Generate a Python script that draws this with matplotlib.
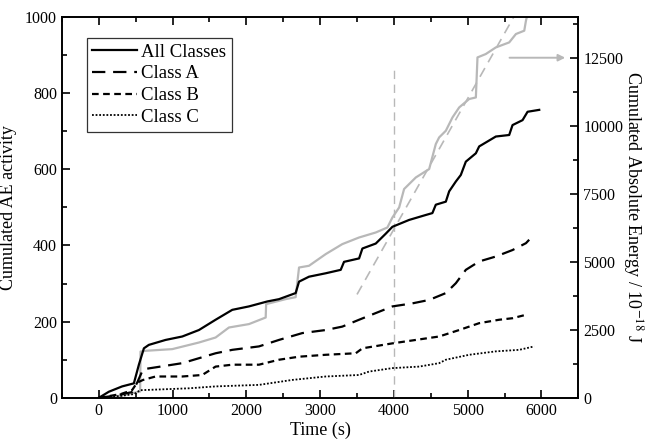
import numpy as np
import matplotlib
matplotlib.use('Agg')
import matplotlib.pyplot as plt

plt.rcParams['font.family'] = ['Liberation Serif', 'DejaVu Serif']
plt.rcParams['mathtext.fontset'] = 'stix'

# cumulated AE activity (left axis)
t_all = [0, 136, 316, 475, 543, 611, 678, 905, 1131, 1357, 1583, 1809, 2035, 2284,
         2442, 2668, 2714, 2849, 3076, 3279, 3324, 3528, 3573, 3754, 3890, 3980,
         4206, 4432, 4522, 4568, 4704, 4749, 4840, 4907, 4975, 5111, 5156, 5382,
         5563, 5608, 5744, 5812, 5970]
y_all = [0, 16, 30, 38, 87, 130, 139, 152, 161, 178, 205, 231, 240, 253,
         259, 275, 305, 318, 327, 336, 357, 366, 392, 405, 431, 449,
         467, 480, 485, 507, 515, 542, 568, 585, 620, 642, 660, 686,
         690, 716, 729, 751, 756]

t_a = [0, 200, 450, 520, 600, 769, 1131, 1357, 1583, 1809, 2171, 2442, 2759, 3076,
       3301, 3528, 3799, 3980, 4251, 4478, 4704, 4840, 4975, 5156, 5382, 5608, 5790, 5834]
y_a = [0, 5, 15, 40, 75, 80, 91, 104, 117, 126, 135, 152, 170, 178,
       187, 205, 226, 240, 248, 257, 275, 301, 336, 358, 371, 388, 406, 415]

t_b = [0, 300, 450, 520, 600, 769, 1131, 1402, 1583, 1809, 2171, 2442, 2714, 3076,
       3483, 3573, 3980, 4297, 4613, 4885, 5156, 5427, 5608, 5790]
y_b = [0, 10, 20, 40, 47, 56, 56, 60, 82, 87, 87, 100, 108, 113,
       117, 130, 143, 152, 161, 178, 196, 205, 209, 218]

t_c = [0, 300, 480, 560, 1221, 1583, 2171, 2623, 3076, 3528, 3664, 3980, 4342,
       4613, 4704, 5020, 5382, 5699, 5902]
y_c = [0, 5, 10, 20, 25, 30, 34, 47, 56, 60, 69, 78, 82,
       91, 100, 113, 122, 126, 135]

# cumulated absolute energy (right axis, 10^-18 J)
t_e = [0, 300, 497, 560, 565, 633, 995, 1357, 1583, 1764, 2035, 2262, 2268, 2533,
       2668, 2714, 2849, 3076, 3301, 3528, 3754, 3912, 3980, 4071, 4138, 4297, 4478,
       4568, 4613, 4704, 4794, 4885, 5020, 5111, 5133, 5246, 5382, 5563, 5654,
       5767, 5790, 5830]
e_all = [0, 80, 195, 230, 1700, 1728, 1790, 2033, 2217, 2585, 2710, 2952, 3444, 3628,
         3700, 4790, 4853, 5283, 5650, 5893, 6077, 6261, 6629, 6996, 7673, 8099, 8408,
         9327, 9570, 9816, 10305, 10673, 10982, 11040, 12511, 12636, 12879, 13063, 13371,
         13493, 13860, 14300]

# linear trend of energy after 4000 s
t_fit = [3500, 5700]
e_fit = [3800, 14360]

t_mark = 4000

fig = plt.figure(figsize=(6.52, 4.45), dpi=100)
ax = fig.add_axes([0.095, 0.106, 0.792, 0.856])
ax2 = ax.twinx()

gray = '#b8b8b8'
ax2.plot(t_e, e_all, color=gray, lw=1.6, zorder=1)
ax2.plot(t_fit, e_fit, color=gray, lw=1.2, ls=(0, (6, 4)), zorder=1)
ax2.annotate('', xy=(6360, 12500), xytext=(5530, 12500),
             arrowprops=dict(arrowstyle='-|>', color=gray, lw=1.4, mutation_scale=10))

ax.plot([t_mark, t_mark], [0, 866], color=gray, lw=1.0, ls=(0, (6, 4)), zorder=2)
ax.plot(t_all, y_all, color='black', lw=1.6, label='All Classes', zorder=3)
ax.plot(t_a, y_a, color='black', lw=1.6, ls=(0, (6, 3.5)), label='Class A', zorder=3)
ax.plot(t_b, y_b, color='black', lw=1.6, ls=(0, (3, 2)), label='Class B', zorder=3)
ax.plot(t_c, y_c, color='black', lw=1.3, ls=(0, (1, 1)), label='Class C', zorder=3)

ax.set_zorder(ax2.get_zorder() + 1)
ax.patch.set_visible(False)

ax.set_xlim(-500, 6500)
ax.set_ylim(0, 1000)
ax2.set_ylim(0, 14000)
ax.set_xticks(np.arange(0, 6001, 1000))
ax.set_xticks(np.arange(-500, 6501, 500), minor=True)
ax.set_yticks(np.arange(0, 1001, 200))
ax.set_yticks(np.arange(0, 1001, 100), minor=True)
ax2.set_yticks(np.arange(0, 12501, 2500))
ax2.set_yticks(np.arange(0, 14001, 1250), minor=True)

ax.tick_params(axis='both', which='both', direction='in', top=True, labelsize=11.5, width=1.2)
ax.tick_params(which='major', length=6)
ax.tick_params(which='minor', length=3.5)
ax2.tick_params(axis='y', which='both', direction='in', labelsize=11.5, width=1.2)
ax2.tick_params(which='major', length=6)
ax2.tick_params(which='minor', length=3.5)
for a in (ax, ax2):
    for s in a.spines.values():
        s.set_linewidth(1.2)

ax.set_xlabel('Time (s)', fontsize=13, labelpad=2)
ax.set_ylabel('Cumulated AE activity', fontsize=13, labelpad=6)
ax2.set_ylabel('Cumulated Absolute Energy / 10$^{-18}$ J', fontsize=13, rotation=270, labelpad=16)

leg = ax.legend(loc='upper left', bbox_to_anchor=(0.048, 0.945), fontsize=13.5, frameon=True,
                fancybox=False, handlelength=2.4, handletextpad=0.2, borderpad=0.3,
                labelspacing=0.25, borderaxespad=0)
leg.get_frame().set_edgecolor('black')
leg.get_frame().set_linewidth(0.9)

fig.savefig('out.png', dpi=100)
